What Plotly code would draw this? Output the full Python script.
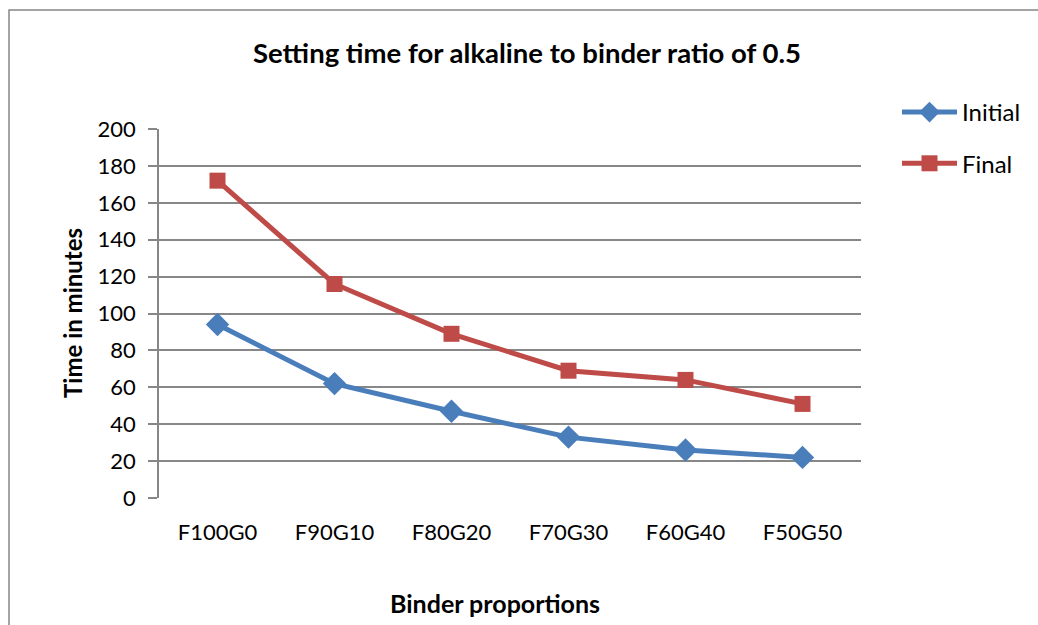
import plotly.graph_objects as go

categories = ["F100G0", "F90G10", "F80G20", "F70G30", "F60G40", "F50G50"]
initial = [94, 62, 47, 33, 26, 22]
final = [172, 116, 89, 69, 64, 51]
y_ticks = [0, 20, 40, 60, 80, 100, 120, 140, 160, 180, 200]

W, H = 1038, 625
L, R, T, B = 159, 861, 129, 498
pw, ph = R - L, B - T

def px(x):
    return (x - L) / pw

def py(y):
    return (B - y) / ph

FONT = "Lato, Carlito, Calibri, sans-serif"
GRID = "#878787"

fig = go.Figure()
fig.add_trace(go.Scatter(
    x=categories, y=initial, name="Initial", mode="lines+markers", legendgroup="a",
    line=dict(color="#4A7EBB", width=5),
    marker=dict(symbol="diamond", size=18, color="#4A7EBB"),
))
fig.add_trace(go.Scatter(
    x=categories, y=final, name="Final", mode="lines+markers", legendgroup="b",
    line=dict(color="#BE4B48", width=5),
    marker=dict(symbol="square", size=16, color="#BE4B48"),
))

fig.update_layout(
    width=W, height=H,
    margin=dict(l=L, r=W - R, t=T, b=H - B, pad=0),
    paper_bgcolor="white", plot_bgcolor="white",
    font=dict(family=FONT, size=22, color="black"),
    showlegend=True,
    legend=dict(
        x=px(897), y=py(90), xanchor="left", yanchor="top",
        font=dict(size=24), tracegroupgap=17, itemwidth=55,
        bgcolor="rgba(0,0,0,0)",
    ),
    xaxis=dict(
        type="category", range=[-0.5, 5.5], showgrid=False,
        showline=False, ticks="outside", ticklen=15, tickcolor="rgba(0,0,0,0)",
        zeroline=False, fixedrange=True,
    ),
    yaxis=dict(
        range=[0, 200], tickvals=y_ticks, showgrid=True, gridcolor=GRID, gridwidth=1.5,
        showline=True, linecolor=GRID, linewidth=1.5,
        ticks="outside", ticklen=9, tickcolor=GRID, tickwidth=1.5,
        ticklabelstandoff=8, zeroline=False, fixedrange=True,
    ),
    shapes=[
        dict(type="rect", xref="paper", yref="paper",
             x0=px(9), x1=px(1050), y0=py(10), y1=py(640),
             line=dict(color=GRID, width=1.5), fillcolor="rgba(0,0,0,0)", layer="below"),
    ],
    annotations=[
        dict(text="<b>Setting time for alkaline to binder ratio of 0.5</b>",
             xref="paper", yref="paper", x=px(527), y=py(52),
             xanchor="center", yanchor="middle", showarrow=False, font=dict(size=27.5)),
        dict(text="<b>Time in minutes</b>", textangle=-90,
             xref="paper", yref="paper", x=px(72), y=py(313),
             xanchor="center", yanchor="middle", showarrow=False, font=dict(size=24)),
        dict(text="<b>Binder proportions</b>",
             xref="paper", yref="paper", x=px(495), y=py(603),
             xanchor="center", yanchor="middle", showarrow=False, font=dict(size=25)),
    ],
)

fig.write_html("out.html")
